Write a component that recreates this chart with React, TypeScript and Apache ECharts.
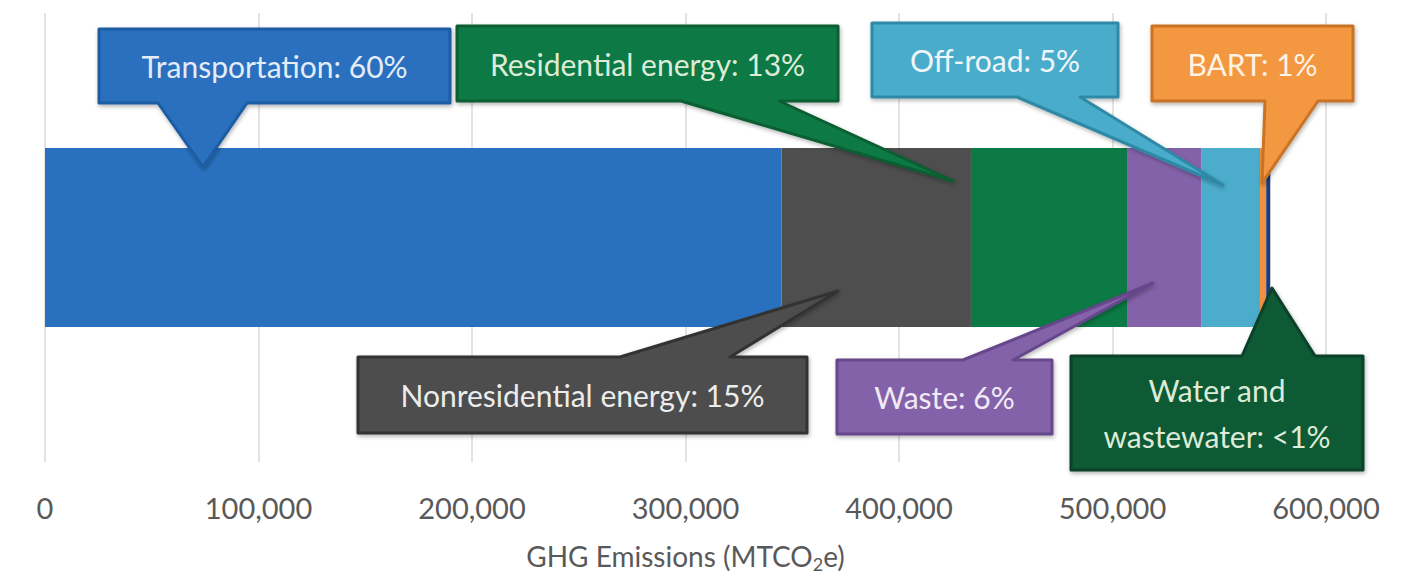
import React, { useEffect, useRef } from "react";
import * as echarts from "echarts";

// ---- data ----
const categories = ["Emissions"];
const sectorNames = [
  "Transportation",
  "Nonresidential energy",
  "Residential energy",
  "Waste",
  "Off-road",
  "BART",
  "Water and wastewater",
];
const sectorValues = [345000, 88700, 73100, 34700, 27600, 2900, 1900];
const sectorColors = ["#2971BF", "#4E4E4E", "#0B7A45", "#8462A9", "#4BADCB", "#F0913F", "#1F3A7A"];
const xTicks = [0, 100000, 200000, 300000, 400000, 500000, 600000];
const calloutTexts = [
  "Transportation: 60%",
  "Residential energy: 13%",
  "Off-road: 5%",
  "BART: 1%",
  "Nonresidential energy: 15%",
  "Waste: 6%",
  "Water and\nwastewater: <1%",
];

// ---- callout layout (pixels) ----
type Callout = {
  l: number; t: number; r: number; b: number;
  side: "bottom" | "top"; b1: number; b2: number; tx: number; ty: number;
  fill: string; stroke: string; textFill: string;
};
const callouts: Callout[] = [
  { l: 99, t: 29, r: 450, b: 103, side: "bottom", b1: 158, b2: 247, tx: 203, ty: 167, fill: "#2A6FBE", stroke: "#1E5CA3", textFill: "#E3ECF7" },
  { l: 457, t: 26, r: 838, b: 101, side: "bottom", b1: 681, b2: 779, tx: 953, ty: 181, fill: "#0B7A45", stroke: "#075E33", textFill: "#DDEBD8" },
  { l: 872, t: 23, r: 1118, b: 97, side: "bottom", b1: 1017, b2: 1080, tx: 1223, ty: 185, fill: "#4AACCB", stroke: "#2F89A6", textFill: "#EEF6FA" },
  { l: 1152, t: 26, r: 1353, b: 101, side: "bottom", b1: 1265, b2: 1318, tx: 1262, ty: 183, fill: "#F39741", stroke: "#C97326", textFill: "#FFF3E6" },
  { l: 358, t: 357, r: 807, b: 433, side: "top", b1: 620, b2: 730, tx: 838, ty: 291, fill: "#4D4D4D", stroke: "#333333", textFill: "#ECECEC" },
  { l: 837, t: 360, r: 1052, b: 434, side: "top", b1: 963, b2: 1013, tx: 1153, ty: 283, fill: "#8462A9", stroke: "#65468A", textFill: "#F0EAF6" },
  { l: 1071, t: 356, r: 1363, b: 470, side: "top", b1: 1242, b2: 1315, tx: 1272, ty: 288, fill: "#0B5A34", stroke: "#08402A", textFill: "#DDEBD8" },
];

function calloutPoints(c: Callout): number[][] {
  if (c.side === "bottom") {
    return [[c.l, c.t], [c.r, c.t], [c.r, c.b], [c.b2, c.b], [c.tx, c.ty], [c.b1, c.b], [c.l, c.b]];
  }
  return [[c.l, c.t], [c.b1, c.t], [c.tx, c.ty], [c.b2, c.t], [c.r, c.t], [c.r, c.b], [c.l, c.b]];
}

export default function App() {
  const ref = useRef<HTMLDivElement>(null);
  useEffect(() => {
    if (!ref.current) return;
    const chart = echarts.init(ref.current, null, { renderer: "svg" });
    const graphics: any[] = [];
    callouts.forEach((c, i) => {
      graphics.push({
        type: "polygon",
        z: 100,
        shape: { points: calloutPoints(c) },
        style: {
          fill: c.fill,
          stroke: c.stroke,
          lineWidth: 3,
          lineJoin: "round",
          shadowBlur: 4,
          shadowOffsetX: 1,
          shadowOffsetY: 2,
          shadowColor: "rgba(0,0,0,0.3)",
        },
      });
      graphics.push({
        type: "text",
        z: 101,
        x: (c.l + c.r) / 2,
        y: (c.t + c.b) / 2,
        style: {
          text: calloutTexts[i],
          fill: c.textFill,
          fontSize: 30,
          fontFamily: "Lato",
          lineHeight: 46,
          align: "center",
          verticalAlign: "middle",
        },
      });
    });

    chart.setOption({
      animation: false,
      backgroundColor: "#FFFFFF",
      grid: { left: 45, right: 81, top: 13, bottom: 120 },
      xAxis: {
        type: "value",
        min: xTicks[0],
        max: xTicks[xTicks.length - 1],
        interval: xTicks[1] - xTicks[0],
        axisLine: { show: false },
        axisTick: { show: false },
        splitLine: { show: true, lineStyle: { color: "#DDD8D8", width: 1.5 } },
        axisLabel: {
          margin: 31,
          color: "#595959",
          fontSize: 29,
          fontFamily: "Lato",
          formatter: (v: number) => v.toLocaleString("en-US"),
        },
        name: "{a|GHG Emissions (MTCO}{s|2}{a|e)}",
        nameLocation: "middle",
        nameGap: 77,
        nameTextStyle: {
          rich: {
            a: { fontSize: 28, fontFamily: "Lato", color: "#595959", lineHeight: 34 },
            s: { fontSize: 18, fontFamily: "Lato", color: "#595959", lineHeight: 20, verticalAlign: "bottom", padding: [0, 0, 0, 0] },
          },
        },
      },
      yAxis: {
        type: "category",
        data: categories,
        show: false,
      },
      series: sectorNames.map((name, i) => ({
        name,
        type: "bar",
        stack: "total",
        barWidth: 179,
        data: [sectorValues[i]],
        itemStyle: { color: sectorColors[i] },
      })),
      graphic: graphics,
    });
    return () => chart.dispose();
  }, []);
  return <div ref={ref} style={{ width: 1407, height: 582, margin: -8 }} />;
}
